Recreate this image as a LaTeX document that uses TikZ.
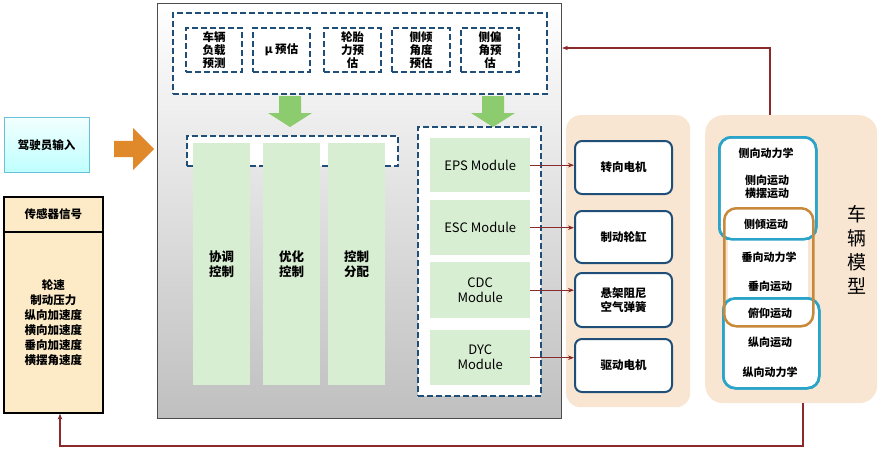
\documentclass[tikz,border=0pt]{standalone}
\usepackage{fontspec}
\setmainfont{Noto Sans CJK SC}
\usetikzlibrary{arrows.meta,shapes.arrows}
\definecolor{dblue}{HTML}{1F4E79}
\definecolor{lgreen}{HTML}{D8EED2}
\definecolor{agreen}{HTML}{8CCB6E}
\definecolor{peach}{HTML}{F8E5D2}
\definecolor{dred}{HTML}{8B2A2A}
\definecolor{cyanb}{HTML}{2AA4C8}
\definecolor{orangeb}{HTML}{C8893A}
\definecolor{pyellow}{HTML}{FCEBC6}
\definecolor{oarrc}{HTML}{E0892A}
\begin{document}
\begin{tikzpicture}[x=1pt,y=-1pt,
  dbox/.style={draw=dblue,line width=2pt,dash pattern=on 6pt off 3pt,fill=white},
  small/.style={dbox,font=\bfseries\fontsize{11.5}{13}\selectfont,align=center,inner sep=0pt},
  col/.style={fill=lgreen,draw=none,font=\bfseries\fontsize{12.5}{15}\selectfont,align=center},
  mod/.style={fill=lgreen,draw=none,font=\fontsize{13}{15}\selectfont,align=center},
  act/.style={draw=dblue,line width=2pt,rounded corners=7pt,fill=white,font=\bfseries\fontsize{11.5}{14}\selectfont,align=center},
  txt/.style={font=\bfseries\fontsize{11}{13}\selectfont,align=center},
  rarr/.style={draw=dred,line width=1pt,-{Stealth[length=6pt]}},
  garr/.style={fill=agreen,draw=none}
]
\useasboundingbox (0,0) rectangle (881,451);
% gray panel
\node[draw=black!70,line width=1pt,top color=white,bottom color=black!25,minimum width=404,minimum height=415,inner sep=0,anchor=north west] (panel) at (157,3) {};
\node[dbox,minimum width=374,minimum height=81,inner sep=0,anchor=north west] (top) at (172,12) {};
\node[small,minimum width=56,minimum height=44] (s1) at (214,50) {车辆\\负载\\预测};
\node[small,minimum width=57,minimum height=44] (s2) at (281.5,50) {μ 预估};
\node[small,minimum width=57,minimum height=44] (s3) at (352.5,50) {轮胎\\力预\\估};
\node[small,minimum width=58,minimum height=44] (s4) at (421,50) {侧倾\\角度\\预估};
\node[small,minimum width=58,minimum height=44] (s5) at (490,50) {侧偏\\角预\\估};
\coordinate (g1) at (290,96);
\coordinate (g2) at (493,96);
\foreach \g in {g1,g2}
  \fill[garr] ([xshift=-11]\g) -- ++(0,17) -- ++(-11,0) -- ([shift={(0,31)}]\g) -- ([shift={(22,17)}]\g) -- ++(-11,0) -- ++(0,-17) -- cycle;
\node[dbox,minimum width=211,minimum height=30,inner sep=0,anchor=north west] (ldash) at (186,135) {};
\node[col,minimum width=57,minimum height=242,anchor=north west] (c1) at (193,143) {协调\\控制};
\node[col,minimum width=57,minimum height=242,anchor=north west] (c2) at (263,143) {优化\\控制};
\node[col,minimum width=57,minimum height=242,anchor=north west] (c3) at (328,143) {控制\\分配};
\node[dbox,minimum width=123,minimum height=269,inner sep=0,anchor=north west] (rdash) at (417,126) {};
\node[mod,minimum width=100,minimum height=54,anchor=north west] (m1) at (430,138) {EPS Module};
\node[mod,minimum width=100,minimum height=55,anchor=north west] (m2) at (430,200) {ESC Module};
\node[mod,minimum width=100,minimum height=56,anchor=north west] (m3) at (430,262) {CDC\\Module};
\node[mod,minimum width=100,minimum height=55,anchor=north west] (m4) at (430,330) {DYC\\Module};
% peach panels
\node[fill=peach,rounded corners=14pt,minimum width=124,minimum height=292,anchor=north west] (p1) at (566,115) {};
\node[fill=peach,rounded corners=18pt,minimum width=172,minimum height=288,anchor=north west] (p2) at (705,115) {};
\node[act,minimum width=97,minimum height=53,anchor=north west] (a1) at (574,140) {转向电机};
\node[act,minimum width=97,minimum height=52,anchor=north west] (a2) at (574,210) {制动轮缸};
\node[act,minimum width=97,minimum height=54,anchor=north west] (a3) at (574,272) {悬架阻尼\\空气弹簧};
\node[act,minimum width=97,minimum height=53,anchor=north west] (a4) at (574,338) {驱动电机};
\foreach \i in {1,2,3,4} \draw[rarr] (m\i.east) -- (a\i.west |- m\i.east);
% vehicle model
\node[draw=cyanb,line width=2.5pt,rounded corners=12pt,fill=white,minimum width=97,minimum height=102,anchor=north west] (b1) at (718,136) {};
\node[draw=cyanb,line width=2.5pt,rounded corners=12pt,fill=white,minimum width=96,minimum height=90,anchor=north west] (b2) at (722,297) {};
\node[fill=white,minimum width=80,minimum height=60,anchor=north west] (wm) at (728,238) {};
\node[draw=cyanb,line width=2.5pt,rounded corners=12pt,minimum width=97,minimum height=102,anchor=north west] (b1b) at (718,136) {};
\node[draw=cyanb,line width=2.5pt,rounded corners=12pt,minimum width=96,minimum height=90,anchor=north west] (b2b) at (722,297) {};
\node[draw=orangeb,line width=2.5pt,rounded corners=12pt,minimum width=89,minimum height=118,anchor=north west] (o1) at (723,207) {};
\node[txt] (t1) at (766,153) {侧向动力学};
\node[txt] (t2) at (767,187) {侧向运动\\横摆运动};
\node[txt] (t3) at (766,224) {侧倾运动};
\node[txt] (t4) at (769,257) {垂向动力学};
\node[txt] (t5) at (770,286) {垂向运动};
\node[txt] (t6) at (770,313) {俯仰运动};
\node[txt] (t7) at (770,342) {纵向运动};
\node[txt] (t8) at (770,372) {纵向动力学};
\node[font=\fontsize{19}{24}\selectfont,align=center] (vm) at (857,250) {车\\辆\\模\\型};
% left side
\node[draw=cyanb!70,top color=cyan!5,bottom color=cyan!25,minimum width=85,minimum height=55,anchor=north west,font=\bfseries\fontsize{11.5}{14}\selectfont] (drv) at (4,117) {驾驶员输入};
\node[single arrow,fill=oarrc,draw=none,minimum width=42,minimum height=40,single arrow head extend=5pt,inner sep=3pt] (oarr) at (130,149) {};
\node[draw=black,line width=1.6pt,fill=pyellow,minimum width=99,minimum height=35,anchor=north west,font=\bfseries\fontsize{11.5}{14}\selectfont] (sh) at (3,196) {传感器信号};
\node[draw=black,line width=1.6pt,fill=pyellow,minimum width=99,minimum height=181,anchor=north west,font=\bfseries\fontsize{11.5}{15}\selectfont,align=center] (sb) at (3,231) {轮速\\制动压力\\纵向加速度\\横向加速度\\垂向加速度\\横摆角速度};
% feedback arrows
\coordinate (f1) at (770,48);
\coordinate (f0) at (770,115);
\draw[rarr,line width=2pt] (f0) -- (f1) -- (panel.east |- f1);
\coordinate (f4) at (803,403);
\coordinate (f2) at (803,446);
\coordinate (f3) at (60,446);
\draw[rarr,line width=2pt] (f4) -- (f2) -- (f3) -- (sb.south -| f3);
\end{tikzpicture}
\end{document}
